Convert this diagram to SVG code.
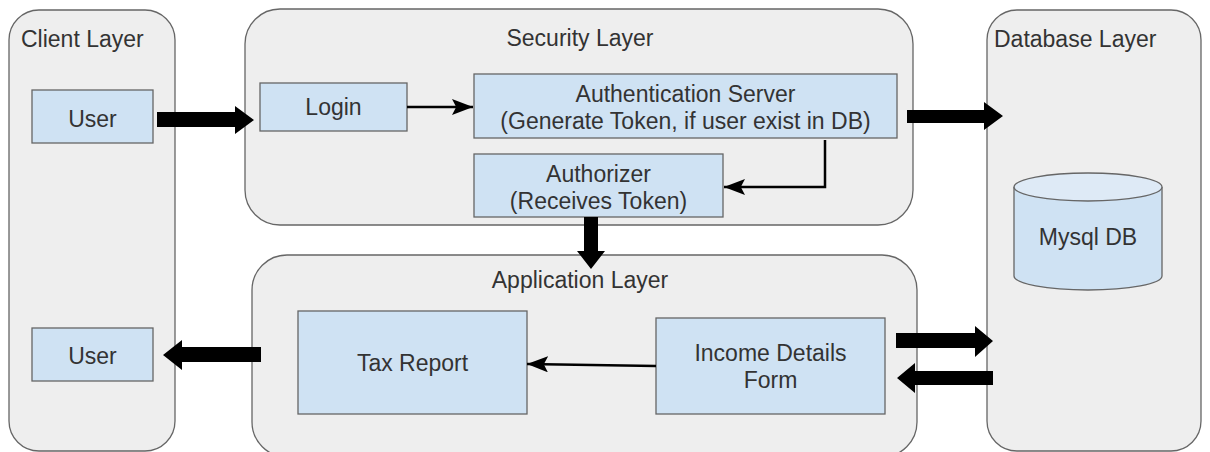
<svg xmlns="http://www.w3.org/2000/svg" width="1210" height="452" viewBox="0 0 1210 452">
<defs>
<style>
.layer{fill:#eeeeee;stroke:#666666;stroke-width:1.3}
.box{fill:#cfe2f3;stroke:#666666;stroke-width:1.3}
.t{font-family:"Liberation Sans",Arial,sans-serif;font-size:23px;fill:#333333}
.c{text-anchor:middle}
.thin{fill:none;stroke:#000000;stroke-width:2.5}
.thick{fill:#000000;stroke:none}
</style>
<marker id="ah" viewBox="0 0 10 10" refX="10" refY="5" markerWidth="21" markerHeight="16" markerUnits="userSpaceOnUse" orient="auto" preserveAspectRatio="none">
<path d="M0,0 L10,5 L0,10 L2,5 Z" fill="#000"/>
</marker>
</defs>

<g id="client-layer">
<rect class="layer" x="9" y="10" width="166" height="441" rx="30" ry="30"/>
<text class="t" x="21" y="47">Client Layer</text>
</g>
<g id="security-layer">
<rect class="layer" x="245" y="9" width="668" height="216" rx="35" ry="35"/>
<text class="t c" x="580" y="46">Security Layer</text>
</g>
<g id="application-layer">
<rect class="layer" x="252" y="255" width="665" height="202" rx="35" ry="35"/>
<text class="t c" x="580" y="288">Application Layer</text>
</g>
<g id="database-layer">
<rect class="layer" x="987" y="10" width="214" height="441" rx="30" ry="30"/>
<text class="t" x="994" y="47">Database Layer</text>
</g>

<g id="user-top">
<rect class="box" x="32" y="90" width="121" height="53"/>
<text class="t c" x="92.5" y="127">User</text>
</g>
<g id="user-bottom">
<rect class="box" x="32" y="328" width="121" height="53"/>
<text class="t c" x="92.5" y="364">User</text>
</g>
<g id="login">
<rect class="box" x="260" y="83" width="147" height="48"/>
<text class="t c" x="333.5" y="115">Login</text>
</g>
<g id="auth-server">
<rect class="box" x="474" y="74" width="423" height="64"/>
<text class="t c" x="685.5" y="102">Authentication Server</text>
<text class="t c" x="685.5" y="129">(Generate Token, if user exist in DB)</text>
</g>
<g id="authorizer">
<rect class="box" x="474" y="154" width="249" height="63"/>
<text class="t c" x="598.5" y="182">Authorizer</text>
<text class="t c" x="598.5" y="209">(Receives Token)</text>
</g>
<g id="tax-report">
<rect class="box" x="298" y="311" width="229" height="103"/>
<text class="t c" x="412.5" y="371">Tax Report</text>
</g>
<g id="income-form">
<rect class="box" x="656" y="318" width="229" height="96"/>
<text class="t c" x="770.5" y="361">Income Details</text>
<text class="t c" x="770.5" y="388">Form</text>
</g>
<g id="mysql-db">
<path class="box" d="M1014,187 L1014,276 A74,14 0 0 0 1162,276 L1162,187"/>
<ellipse class="box" cx="1088" cy="187" rx="74" ry="14" style="fill:#deeaf6"/>
<text class="t c" x="1088" y="245">Mysql DB</text>
</g>

<g id="connectors">
<line class="thin" x1="407" y1="107" x2="473" y2="107" marker-end="url(#ah)"/>
<polyline class="thin" points="825,140 825,187 724,187" marker-end="url(#ah)"/>
<line class="thin" x1="656" y1="366" x2="527" y2="364" marker-end="url(#ah)"/>
<polygon class="thick" points="157,112 235,112 235,106 254,120 235,134 235,127 157,127"/>
<polygon class="thick" points="907,110 984,110 984,102 1003,116 984,130 984,123 907,123"/>
<polygon class="thick" points="584,217 598,217 598,251 605,251 591,269 577,251 584,251"/>
<polygon class="thick" points="261,347 182,347 182,340 163,355 182,370 182,362 261,362"/>
<polygon class="thick" points="896,333 975,333 975,326 993,341 975,357 975,348 896,348"/>
<polygon class="thick" points="993,371 915,371 915,363 897,378 915,393 915,385 993,385"/>
</g>
</svg>
